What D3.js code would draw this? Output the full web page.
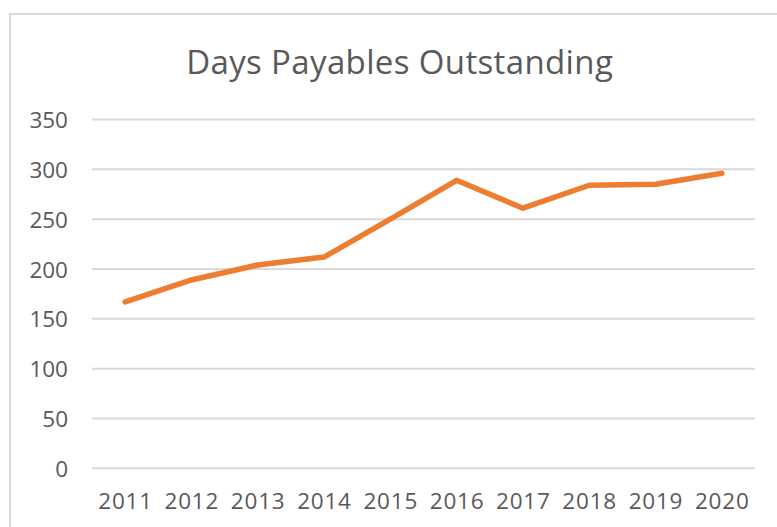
<!DOCTYPE html>
<html>
<head>
<meta charset="utf-8">
<script src="https://cdn.jsdelivr.net/npm/d3@7"></script>
<style>
  html, body { margin: 0; padding: 0; background: #fff; }
  svg { display: block; }
</style>
</head>
<body>
<svg id="chart" width="777" height="527"></svg>
<script>
const title = "Days Payables Outstanding";
const years = ["2011","2012","2013","2014","2015","2016","2017","2018","2019","2020"];
const dpo = [167, 189, 204, 212, 250, 289, 261, 284, 285, 296];
const yTicks = [0, 50, 100, 150, 200, 250, 300, 350];

(function () {
const svg = d3.select("#chart");
const W = 777, H = 527;
const font = "'Open Sans', Calibri, sans-serif";
const textColor = "#595959";

// outer chart border
svg.append("rect")
  .attr("x", 10).attr("y", 14)
  .attr("width", W + 20).attr("height", H + 20)
  .attr("fill", "#fff").attr("stroke", "#d9d9d9").attr("stroke-width", 2);

const plotLeft = 92, plotRight = 755, plotTop = 119.5, plotBottom = 468.3;

const x = d3.scaleBand().domain(years).range([plotLeft, plotRight]).padding(0);
const y = d3.scaleLinear().domain([0, 350]).range([plotBottom, plotTop]);

// gridlines
svg.append("g").selectAll("line").data(yTicks).join("line")
  .attr("x1", plotLeft).attr("x2", plotRight)
  .attr("y1", d => y(d)).attr("y2", d => y(d))
  .attr("stroke", "#d9d9d9").attr("stroke-width", 2);

// y axis labels
const yAxis = d3.axisLeft(y).tickValues(yTicks).tickSize(0).tickPadding(0);
const gy = svg.append("g").attr("transform", "translate(68,0)").call(yAxis);
gy.select(".domain").remove();
gy.selectAll("text")
  .attr("font-family", font).attr("font-size", 22.5).attr("fill", textColor)
  .attr("dy", "0.36em");

// x axis labels
const xAxis = d3.axisBottom(x).tickSize(0).tickPadding(0);
const gx = svg.append("g").attr("transform", "translate(0,509)").call(xAxis);
gx.select(".domain").remove();
gx.selectAll("text")
  .attr("font-family", font).attr("font-size", 22.5).attr("fill", textColor)
  .attr("letter-spacing", "0.8px")
  .attr("dx", "0.4px")
  .attr("dy", "0");

// line
const line = d3.line()
  .x((d, i) => x(years[i]) + x.bandwidth() / 2)
  .y(d => y(d));
svg.append("path")
  .datum(dpo)
  .attr("d", line)
  .attr("fill", "none")
  .attr("stroke", "#ED7D31")
  .attr("stroke-width", 5.5)
  .attr("stroke-linejoin", "round")
  .attr("stroke-linecap", "round");

// title
const t = svg.append("text")
  .attr("x", 399.5).attr("y", 74)
  .attr("text-anchor", "middle")
  .attr("font-family", font).attr("font-size", 33)
  .attr("fill", textColor)
  .text(title);
const w = t.node().getComputedTextLength();
const target = 427;
const ls = (target - w) / title.length;
t.attr("letter-spacing", ls + "px").attr("dx", (ls / 2) + "px");
})();
</script>
</body>
</html>
